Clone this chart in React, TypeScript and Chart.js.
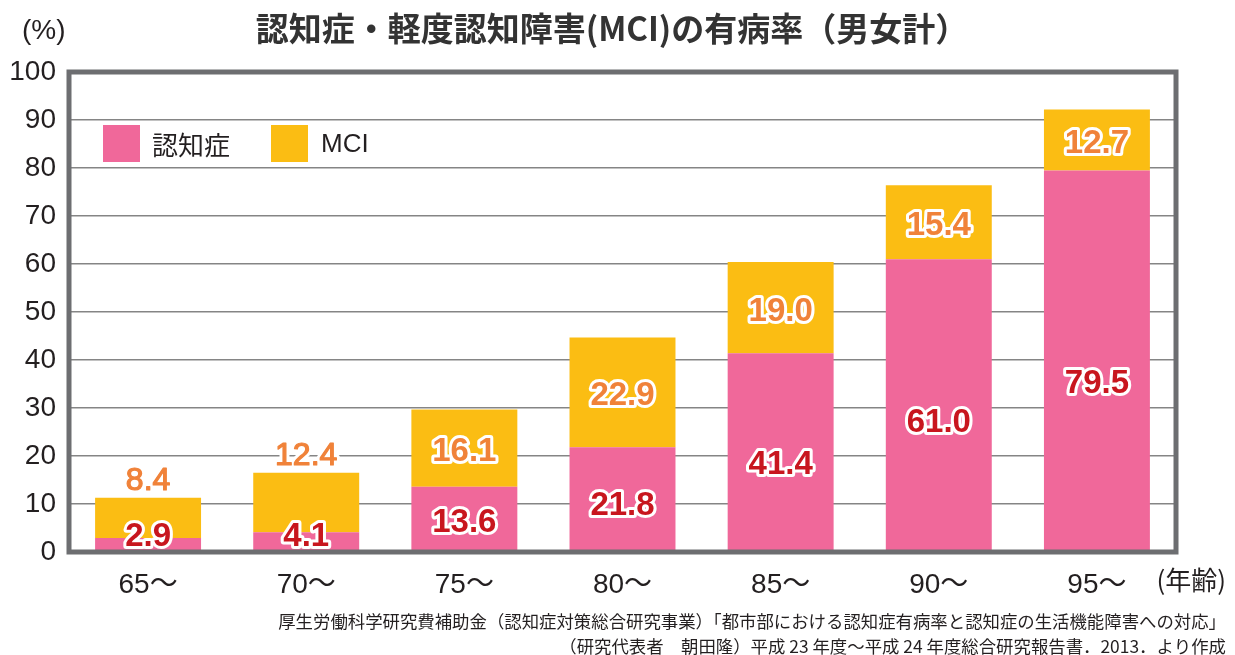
import React, { useEffect, useRef } from "react";
import { Chart, registerables } from "chart.js";

Chart.register(...registerables);

const categories = ["65〜", "70〜", "75〜", "80〜", "85〜", "90〜", "95〜"];
const dementia = [2.9, 4.1, 13.6, 21.8, 41.4, 61.0, 79.5];
const mci = [8.4, 12.4, 16.1, 22.9, 19.0, 15.4, 12.7];
const yTicks = [0, 10, 20, 30, 40, 50, 60, 70, 80, 90, 100];

const TITLE = "認知症・軽度認知障害(MCI)の有病率（男女計）";
const SERIES = ["認知症", "MCI"];
const UNIT_Y = "(%)";
const UNIT_X = "(年齢)";
const NOTE1 = "厚生労働科学研究費補助金（認知症対策総合研究事業）「都市部における認知症有病率と認知症の生活機能障害への対応」";
const NOTE2 = "（研究代表者　朝田隆）平成 23 年度〜平成 24 年度総合研究報告書．2013．より作成";

const PINK = "#f0689a";
const YELLOW = "#fbbd13";
const RED = "#c8161e";
const ORANGE = "#f08239";
const FRAME = "#6d6e71";
const TEXT = "#231f20";
const LATIN = "'Liberation Sans', Arial, 'Noto Sans CJK JP', sans-serif";
const CJK = "'Noto Sans CJK JP', 'Liberation Sans', sans-serif";

const decorPlugin = {
  id: "decor",
  afterDatasetsDraw(chart: any) {
    const { ctx, chartArea, scales } = chart;
    const ys = scales.y;
    // frame
    ctx.save();
    ctx.strokeStyle = FRAME;
    ctx.lineWidth = 5;
    ctx.strokeRect(chartArea.left, chartArea.top, chartArea.right - chartArea.left, chartArea.bottom - chartArea.top);
    ctx.restore();

    // value labels
    const meta0 = chart.getDatasetMeta(0);
    ctx.save();
    ctx.textAlign = "center";
    ctx.textBaseline = "middle";
    ctx.lineJoin = "round";
    for (let i = 0; i < categories.length; i++) {
      const x = meta0.data[i].x;
      const d = dementia[i];
      const m = mci[i];
      const base = ys.getPixelForValue(0);
      const dTop = ys.getPixelForValue(d);
      const h = base - dTop;
      const dy = Math.min(base - 0.44 * h, base - 15);
      const dText = d.toFixed(1);
      ctx.font = `bold 33px ${LATIN}`;
      ctx.strokeStyle = "#ffffff";
      ctx.lineWidth = 6;
      ctx.strokeText(dText, x, dy);
      ctx.fillStyle = RED;
      ctx.fillText(dText, x, dy);

      const mTop = ys.getPixelForValue(d + m);
      const mText = m.toFixed(1);
      if (d < 10) {
        ctx.font = `32px ${LATIN}`;
        const my = mTop - 17;
        ctx.strokeStyle = "#ffffff";
        ctx.lineWidth = 7;
        ctx.strokeText(mText, x, my);
        ctx.strokeStyle = ORANGE;
        ctx.lineWidth = 1.2;
        ctx.strokeText(mText, x, my);
        ctx.fillStyle = ORANGE;
        ctx.fillText(mText, x, my);
      } else {
        ctx.font = `bold 33px ${LATIN}`;
        const my = (mTop + dTop) / 2 + 4;
        ctx.strokeStyle = "#ffffff";
        ctx.lineWidth = 6;
        ctx.strokeText(mText, x, my);
        ctx.fillStyle = ORANGE;
        ctx.fillText(mText, x, my);
      }
    }
    ctx.restore();

    // legend
    ctx.save();
    ctx.fillStyle = PINK;
    ctx.fillRect(103, 125, 37, 37);
    ctx.fillStyle = YELLOW;
    ctx.fillRect(271, 125, 37, 37);
    ctx.fillStyle = TEXT;
    ctx.textBaseline = "middle";
    ctx.textAlign = "left";
    ctx.font = `26px ${CJK}`;
    ctx.fillText(SERIES[0], 152, 145);
    ctx.font = `26px ${LATIN}`;
    ctx.fillText(SERIES[1], 321, 145);
    ctx.restore();
  },
  afterDraw(chart: any) {
    const { ctx } = chart;
    ctx.save();
    ctx.fillStyle = "#333333";
    ctx.textBaseline = "middle";
    ctx.textAlign = "center";
    ctx.font = `bold 33px ${CJK}`;
    ctx.fillText(TITLE, 612, 28);
    ctx.fillStyle = TEXT;
    ctx.textAlign = "left";
    ctx.font = `28px ${LATIN}`;
    ctx.fillText(UNIT_Y, 22, 31);
    ctx.textAlign = "right";
    ctx.font = `26px ${CJK}`;
    ctx.fillText(UNIT_X, 1226, 580);
    ctx.font = `17.4px ${CJK}`;
    ctx.fillText(NOTE1, 1226, 621);
    ctx.fillText(NOTE2, 1226, 646);
    ctx.restore();
  },
};

export default function App() {
  const ref = useRef<HTMLCanvasElement>(null);
  useEffect(() => {
    if (!ref.current) return;
    const chart = new Chart(ref.current, {
      type: "bar",
      data: {
        labels: categories,
        datasets: [
          { label: SERIES[0], data: dementia, backgroundColor: PINK, borderWidth: 0 },
          { label: SERIES[1], data: mci, backgroundColor: YELLOW, borderWidth: 0 },
        ],
      },
      options: {
        responsive: false,
        animation: false,
        events: [],
        layout: { padding: { left: 0, top: 72, right: 59, bottom: 0 } },
        datasets: { bar: { categoryPercentage: 1, barPercentage: 0.67 } },
        plugins: { legend: { display: false }, title: { display: false }, tooltip: { enabled: false } },
        scales: {
          x: {
            stacked: true,
            grid: { display: false },
            border: { display: false },
            ticks: { color: TEXT, font: { size: 28, family: LATIN }, padding: 8, maxRotation: 0 },
            afterFit: (s: any) => { s.height = 103; },
          },
          y: {
            stacked: true,
            min: 0,
            max: 100,
            afterBuildTicks: (s: any) => { s.ticks = yTicks.map((v) => ({ value: v })); },
            grid: { color: "#858585", lineWidth: 1.5, drawTicks: false },
            border: { display: false },
            ticks: { color: TEXT, font: { size: 28, family: LATIN }, padding: 13 },
            afterFit: (s: any) => { s.width = 69; },
          },
        },
      },
      plugins: [decorPlugin],
    } as any);
    return () => chart.destroy();
  }, []);
  return (
    <div style={{ position: "absolute", left: 0, top: 0, width: 1235, height: 655, background: "#fff" }}>
      <canvas ref={ref} width={1235} height={655} style={{ width: 1235, height: 655, display: "block" }} />
    </div>
  );
}
